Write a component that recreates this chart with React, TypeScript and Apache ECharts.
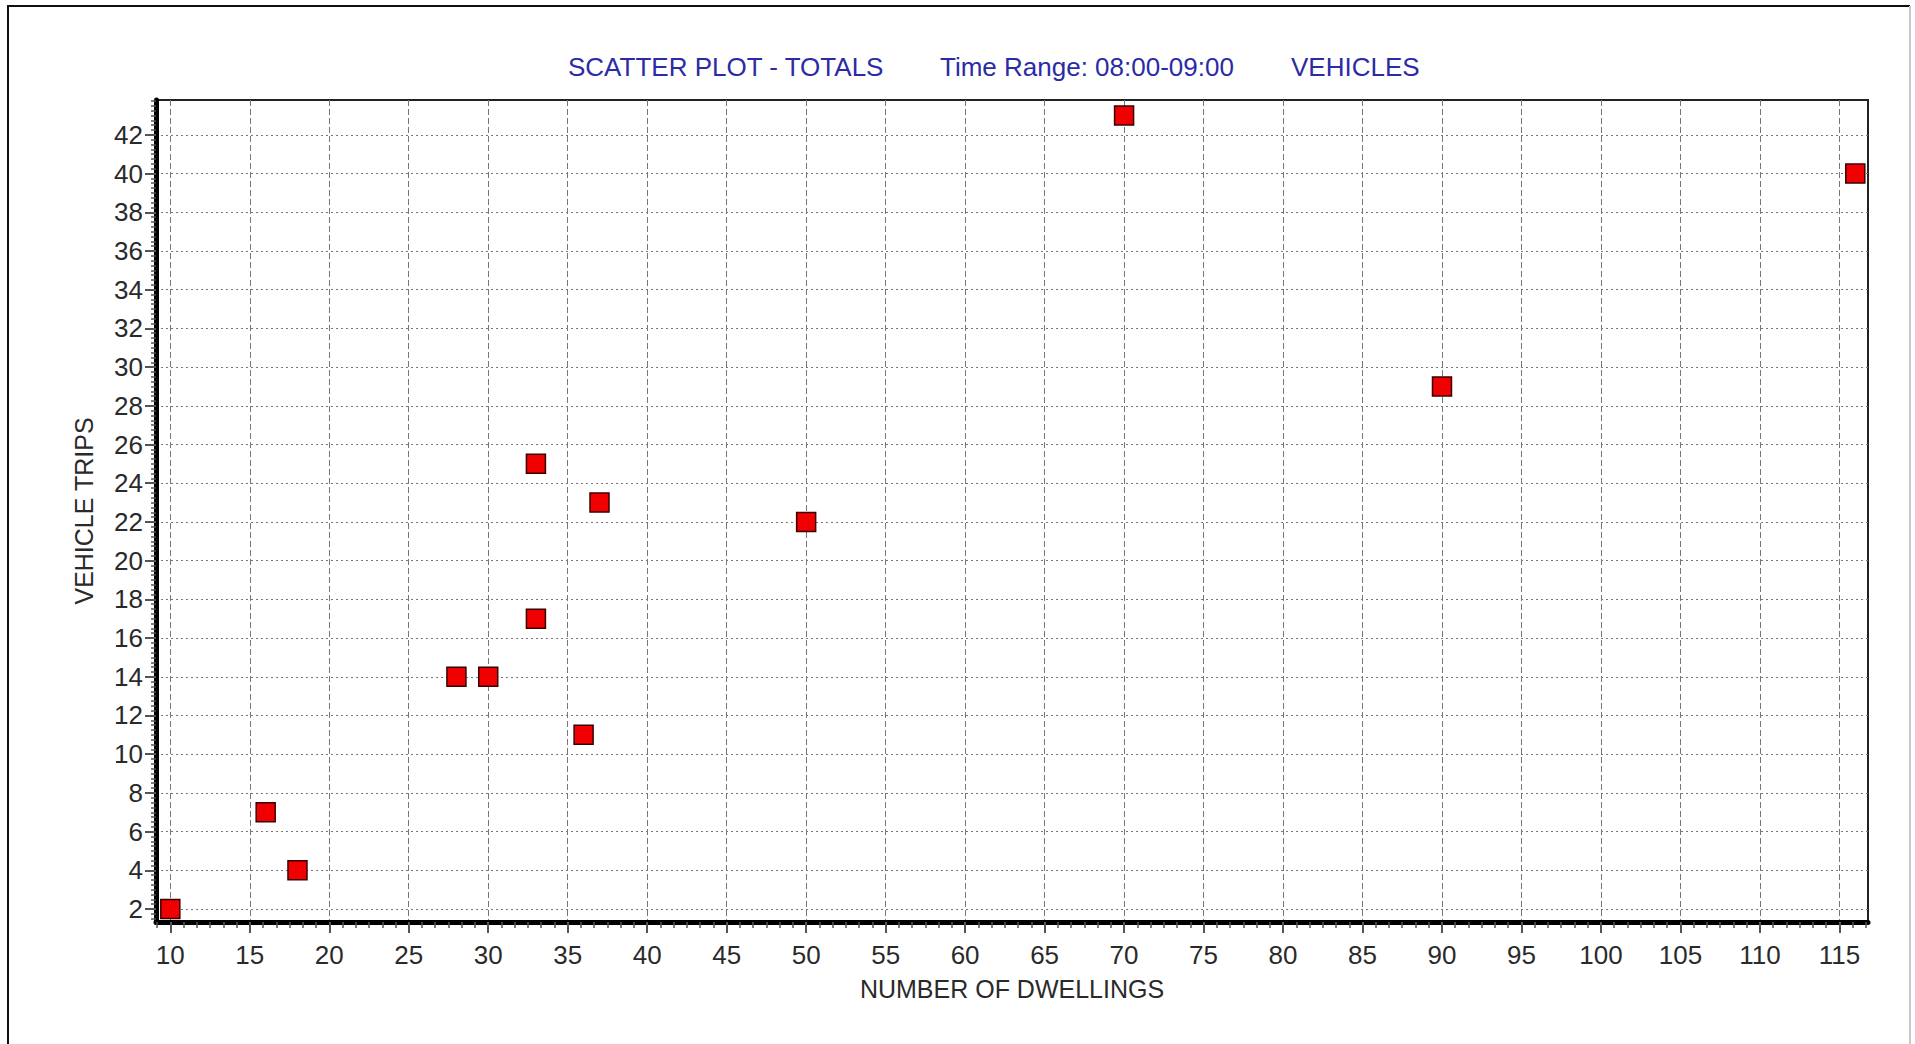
import React, { useEffect, useRef } from "react";
import * as echarts from "echarts";

const dwellings = [10, 16, 18, 28, 30, 33, 33, 36, 37, 50, 70, 90, 116];
const trips = [2, 7, 4, 14, 14, 25, 17, 11, 23, 22, 43, 29, 40];

const xTicks = [10, 15, 20, 25, 30, 35, 40, 45, 50, 55, 60, 65, 70, 75, 80, 85, 90, 95, 100, 105, 110, 115];
const yTicks = [2, 4, 6, 8, 10, 12, 14, 16, 18, 20, 22, 24, 26, 28, 30, 32, 34, 36, 38, 40, 42];

const titleParts = ["SCATTER PLOT - TOTALS", "Time Range: 08:00-09:00", "VEHICLES"];
const xName = "NUMBER OF DWELLINGS";
const yName = "VEHICLE TRIPS";

const X_MIN = 9.1;
const X_MAX = 116.8;
const Y_MIN = 1.33;
const Y_MAX = 43.8;

function minorValues(majors: number[], step: number, parts: number, lo: number, hi: number) {
  const out: number[] = [];
  const start = majors[0] - step;
  const end = majors[majors.length - 1] + step;
  for (let m = start; m < end; m += step) {
    for (let k = 1; k < parts; k++) {
      const v = +(m + (step * k) / parts).toFixed(4);
      if (v > lo && v < hi) out.push(v);
    }
  }
  return out;
}

const FONT = '"Liberation Sans", Arial, sans-serif';

export default function App() {
  const ref = useRef<HTMLDivElement>(null);
  useEffect(() => {
    if (!ref.current) return;
    const chart = echarts.init(ref.current, null, { renderer: "svg" });
    const xMinor = minorValues(xTicks, 5, 6, X_MIN, X_MAX);
    const yMinor = minorValues(yTicks, 2, 8, Y_MIN, Y_MAX);
    const titleX = [568, 940, 1291];
    chart.setOption({
      animation: false,
      backgroundColor: "#ffffff",
      textStyle: { fontFamily: FONT },
      graphic: [
        {
          type: "polyline",
          shape: { points: [[8, 1060], [8, 6], [1910, 6]] },
          style: { stroke: "#111", lineWidth: 2, fill: "none" },
        },
        {
          type: "line",
          shape: { x1: 1910, y1: 6, x2: 1910, y2: 1060 },
          style: { stroke: "#c8c8c8", lineWidth: 2 },
        },
        ...titleParts.map((t, i) => ({
          type: "text",
          x: titleX[i],
          y: 67,
          style: {
            text: t,
            fill: "#2b2ba6",
            fontSize: 26,
            fontFamily: FONT,
            verticalAlign: "middle",
          },
        })),
      ],
      grid: {
        left: 156,
        top: 100,
        width: 1712,
        height: 822,
        show: true,
        backgroundColor: "#fff",
        borderColor: "#222",
        borderWidth: 2,
        containLabel: false,
        outerBoundsMode: "none",
      },
      xAxis: [
        {
          type: "value",
          min: X_MIN,
          max: X_MAX,
          position: "bottom",
          name: xName,
          nameLocation: "middle",
          nameGap: 54,
          nameTextStyle: { fontSize: 25, color: "#2a2a2a", fontFamily: FONT },
          axisLine: { show: true, onZero: false, lineStyle: { color: "#000", width: 5 } },
          axisTick: {
            show: true,
            customValues: xTicks,
            length: 11,
            lineStyle: { color: "#555", width: 2 },
          },
          axisLabel: {
            customValues: xTicks,
            fontSize: 26,
            color: "#2a2a2a",
            margin: 20,
            fontFamily: FONT,
          },
          splitLine: {
            show: true,
            lineStyle: { color: "#777", width: 1, type: [6, 3] },
          },
        },
        {
          type: "value",
          min: X_MIN,
          max: X_MAX,
          position: "bottom",
          axisLine: { show: false },
          axisTick: {
            show: true,
            customValues: xMinor,
            length: 6,
            lineStyle: { color: "#555", width: 1.5 },
          },
          axisLabel: { show: false },
          splitLine: { show: false },
        },
      ],
      yAxis: [
        {
          type: "value",
          min: Y_MIN,
          max: Y_MAX,
          position: "left",
          name: yName,
          nameLocation: "middle",
          nameGap: 60,
          nameRotate: 90,
          nameTextStyle: { fontSize: 25, color: "#2a2a2a", fontFamily: FONT },
          axisLine: { show: true, onZero: false, lineStyle: { color: "#000", width: 5 } },
          axisTick: {
            show: true,
            customValues: yTicks,
            length: 11,
            lineStyle: { color: "#555", width: 2 },
          },
          axisLabel: {
            customValues: yTicks,
            fontSize: 26,
            color: "#2a2a2a",
            margin: 13,
            fontFamily: FONT,
          },
          splitLine: {
            show: true,
            lineStyle: { color: "#777", width: 1, type: [2, 3] },
          },
        },
        {
          type: "value",
          min: Y_MIN,
          max: Y_MAX,
          position: "left",
          axisLine: { show: false },
          axisTick: {
            show: true,
            customValues: yMinor,
            length: 5,
            lineStyle: { color: "#555", width: 1.5 },
          },
          axisLabel: { show: false },
          splitLine: { show: false },
        },
      ],
      series: [
        {
          type: "scatter",
          xAxisIndex: 0,
          yAxisIndex: 0,
          symbol: "rect",
          symbolSize: 19,
          itemStyle: { color: "#f00000", borderColor: "#3a0000", borderWidth: 1.5, opacity: 1 },
          data: dwellings.map((d, i) => [d, trips[i]]),
          z: 5,
        },
      ],
    });
    return () => chart.dispose();
  }, []);
  return (
    <div
      ref={ref}
      style={{ position: "absolute", left: 0, top: 0, width: 1915, height: 1044 }}
    />
  );
}
